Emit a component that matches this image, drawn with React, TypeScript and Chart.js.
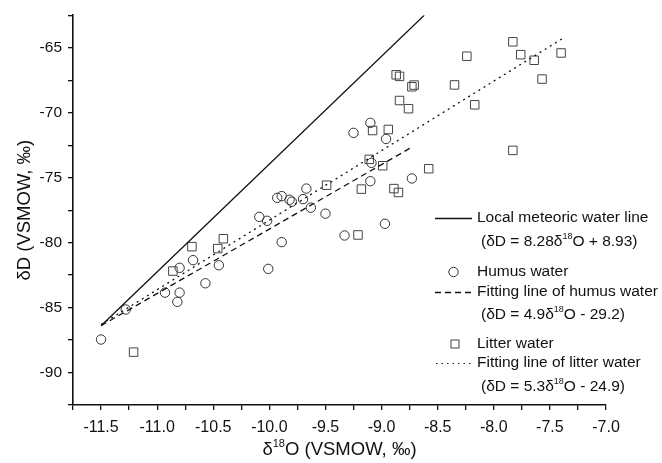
import React, { useEffect, useRef } from 'react';
import { Chart, registerables } from 'chart.js';

Chart.register(...registerables);

// Humus water (circles)
const humusX = [-11.50, -11.28, -10.93, -10.82, -10.80, -10.80, -10.68, -10.57, -10.45, -10.09, -10.02, -10.01, -9.93, -9.89, -9.89, -9.82, -9.80, -9.70, -9.67, -9.63, -9.50, -9.33, -9.25, -9.10, -9.09, -9.10, -8.97, -8.96, -8.73];
const humusY = [-87.46, -85.15, -83.85, -84.56, -83.85, -81.94, -81.35, -83.13, -81.74, -78.02, -78.32, -82.02, -76.55, -76.42, -79.96, -76.70, -76.85, -76.65, -75.84, -77.31, -77.77, -79.45, -71.55, -70.78, -73.86, -75.27, -78.55, -72.02, -75.06];

// Litter water (squares)
const litterX = [-11.21, -10.86, -10.69, -10.46, -10.41, -9.49, -9.21, -9.18, -9.11, -9.08, -8.99, -8.94, -8.89, -8.85, -8.87, -8.84, -8.84, -8.76, -8.73, -8.71, -8.58, -8.35, -8.24, -8.17, -7.83, -7.83, -7.76, -7.64, -7.57, -7.40];
const litterY = [-88.43, -82.19, -80.31, -80.46, -79.70, -75.58, -79.41, -75.88, -73.59, -71.37, -74.08, -71.29, -75.84, -76.14, -67.08, -67.20, -69.06, -69.69, -68.00, -67.87, -74.31, -67.86, -65.65, -69.39, -64.54, -72.90, -65.53, -65.96, -67.41, -65.40];

// Lines (end points)
const lmwlX = [-11.5, -8.62];
const lmwlY = [-86.4, -62.5];
const humusFitX = [-11.5, -8.72];
const humusFitY = [-86.4, -72.6];
const litterFitX = [-11.5, -7.39];
const litterFitY = [-86.3, -64.3];

// Axes
const xMin = -11.75;
const xMax = -7.0;
const xStep = 0.25;
const xLabelEvery = 0.5;
const yMin = -92.5;
const yMax = -62.5;
const yStep = 2.5;
const yLabelEvery = 5;

const xTitleParts = ['δ', '18', 'O (VSMOW, ‰)'];
const yTitle = 'δD (VSMOW, ‰)';

const legendLabels = [
  'Local meteoric water line',
  ['(δD = 8.28δ', '18', 'O + 8.93)'],
  'Humus water',
  'Fitting line of humus water',
  ['(δD = 4.9δ', '18', 'O - 29.2)'],
  'Litter water',
  'Fitting line of litter water',
  ['(δD = 5.3δ', '18', 'O - 24.9)'],
];

const FONT = "'Liberation Sans', Arial, Helvetica, sans-serif";
const INK = '#111';

const toPts = (xs: number[], ys: number[]) => xs.map((x, i) => ({ x, y: ys[i] }));
const isMult = (v: number, m: number) => Math.abs(v / m - Math.round(v / m)) < 1e-6;

function drawSup(ctx: CanvasRenderingContext2D, parts: string[], x: number, y: number, size: number, supSize: number, rise: number, center: boolean) {
  const normal = `${size}px ${FONT}`;
  const small = `${supSize}px ${FONT}`;
  ctx.font = normal;
  const w0 = ctx.measureText(parts[0]).width;
  const w2 = ctx.measureText(parts[2]).width;
  ctx.font = small;
  const w1 = ctx.measureText(parts[1]).width;
  let cx = center ? x - (w0 + w1 + w2) / 2 : x;
  ctx.textAlign = 'left';
  ctx.font = normal;
  ctx.fillText(parts[0], cx, y);
  cx += w0;
  ctx.font = small;
  ctx.fillText(parts[1], cx, y - rise);
  cx += w1;
  ctx.font = normal;
  ctx.fillText(parts[2], cx, y);
}

const textPlugin = {
  id: 'customText',
  afterDraw(chart: any) {
    const ctx = chart.ctx as CanvasRenderingContext2D;
    ctx.save();
    ctx.fillStyle = INK;
    ctx.textBaseline = 'middle';
    // x axis title with real superscript
    const area = chart.chartArea;
    drawSup(ctx, xTitleParts, (area.left + area.right) / 2, 450, 18.5, 11, 6, true);

    const rowsY = [218, 242, 272, 292, 315, 344, 363, 387];
    const symX0 = 435;
    const symX1 = 472;
    const textX = 477;
    const eqX = 481;
    legendLabels.forEach((lab, i) => {
      const y = rowsY[i];
      if (typeof lab === 'string') {
        ctx.textAlign = 'left';
        ctx.font = `15.5px ${FONT}`;
        ctx.fillText(lab, textX, y);
      } else {
        drawSup(ctx, lab, eqX, y, 15.5, 9, 5, false);
      }
    });
    // symbols
    ctx.strokeStyle = INK;
    ctx.lineWidth = 1.3;
    ctx.setLineDash([]);
    ctx.beginPath();
    ctx.moveTo(symX0, rowsY[0] + 0.5);
    ctx.lineTo(symX1, rowsY[0] + 0.5);
    ctx.stroke();
    ctx.strokeStyle = '#333';
    ctx.lineWidth = 1;
    ctx.beginPath();
    ctx.arc(453.5, rowsY[2], 4.7, 0, Math.PI * 2);
    ctx.stroke();
    ctx.strokeStyle = INK;
    ctx.lineWidth = 1.3;
    ctx.setLineDash([6, 4]);
    ctx.beginPath();
    ctx.moveTo(symX0, rowsY[3] + 0.5);
    ctx.lineTo(symX1, rowsY[3] + 0.5);
    ctx.stroke();
    ctx.setLineDash([]);
    ctx.strokeStyle = '#444';
    ctx.lineWidth = 1;
    ctx.strokeRect(451, rowsY[5] - 4, 8, 8);
    ctx.strokeStyle = INK;
    ctx.lineWidth = 1.2;
    ctx.setLineDash([1.5, 4]);
    ctx.beginPath();
    ctx.moveTo(symX0 + 1, rowsY[6] + 0.5);
    ctx.lineTo(symX1 + 1, rowsY[6] + 0.5);
    ctx.stroke();
    ctx.restore();
  },
};

export default function App() {
  const ref = useRef<HTMLCanvasElement>(null);
  useEffect(() => {
    document.body.style.margin = '0';
    const canvas = ref.current;
    if (!canvas) return;
    const chart = new Chart(canvas, {
      type: 'scatter',
      data: {
        datasets: [
          {
            label: 'Local meteoric water line',
            data: toPts(lmwlX, lmwlY),
            showLine: true,
            borderColor: INK,
            borderWidth: 1.3,
            pointRadius: 0,
            fill: false,
          },
          {
            label: 'Fitting line of humus water',
            data: toPts(humusFitX, humusFitY),
            showLine: true,
            borderColor: INK,
            borderWidth: 1.3,
            borderDash: [6, 4],
            pointRadius: 0,
            fill: false,
          },
          {
            label: 'Fitting line of litter water',
            data: toPts(litterFitX, litterFitY),
            showLine: true,
            borderColor: INK,
            borderWidth: 1.3,
            borderDash: [2, 4],
            pointRadius: 0,
            fill: false,
          },
          {
            label: 'Humus water',
            data: toPts(humusX, humusY),
            pointStyle: 'circle',
            pointRadius: 4.7,
            pointBorderWidth: 1,
            borderColor: '#333',
            backgroundColor: 'rgba(0,0,0,0)',
            pointBackgroundColor: 'rgba(0,0,0,0)',
            pointBorderColor: '#333',
            showLine: false,
          },
          {
            label: 'Litter water',
            data: toPts(litterX, litterY),
            pointStyle: 'rect',
            pointRadius: 6,
            pointBorderWidth: 1,
            borderColor: '#444',
            backgroundColor: 'rgba(0,0,0,0)',
            pointBackgroundColor: 'rgba(0,0,0,0)',
            pointBorderColor: '#444',
            showLine: false,
          },
        ],
      },
      options: {
        animation: false,
        responsive: false,
        devicePixelRatio: 1,
        events: [],
        layout: { padding: { top: 12, right: 56, left: 0, bottom: 0 } },
        plugins: {
          legend: { display: false },
          tooltip: { enabled: false },
        },
        scales: {
          x: {
            type: 'linear',
            min: xMin,
            max: xMax,
            afterFit: (s: any) => {
              s.height = 58;
            },
            ticks: {
              stepSize: xStep,
              autoSkip: false,
              maxRotation: 0,
              minRotation: 0,
              color: INK,
              padding: 8,
              font: { size: 16, family: FONT },
              callback: (v: any) => (isMult(Number(v), xLabelEvery) ? Number(v).toFixed(1) : ''),
            },
            grid: {
              drawOnChartArea: false,
              drawTicks: true,
              tickLength: 5,
              color: INK,
              lineWidth: 1.3,
            },
            border: { display: true, color: INK, width: 1.6 },
            title: { display: false },
          },
          y: {
            type: 'linear',
            min: yMin,
            max: yMax,
            afterFit: (s: any) => {
              s.width = 73;
            },
            ticks: {
              stepSize: yStep,
              autoSkip: false,
              color: INK,
              padding: 6,
              font: { size: 15.5, family: FONT },
              callback: (v: any) => (isMult(Number(v), yLabelEvery) ? String(Math.round(Number(v))) : ''),
            },
            grid: {
              drawOnChartArea: false,
              drawTicks: true,
              tickLength: 5,
              color: INK,
              lineWidth: 1.3,
            },
            border: { display: true, color: INK, width: 1.6 },
            title: {
              display: true,
              text: yTitle,
              color: INK,
              font: { size: 18.5, family: FONT },
              padding: { top: 14, bottom: 0 },
            },
          },
        },
      },
      plugins: [textPlugin],
    });
    return () => chart.destroy();
  }, []);
  return (
    <div style={{ position: 'absolute', left: 0, top: 0, width: 662, height: 463, background: '#fff' }}>
      <canvas ref={ref} width={662} height={463} style={{ display: 'block' }} />
    </div>
  );
}
